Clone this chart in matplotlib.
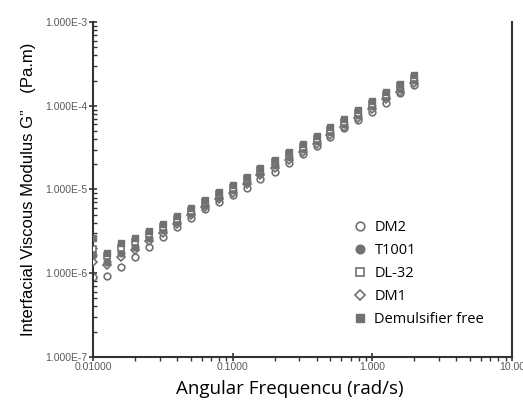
import matplotlib.pyplot as plt
from matplotlib.ticker import FixedLocator, LogLocator, NullFormatter

# angular frequency (rad/s)
freq = [0.01, 0.0126, 0.0158, 0.02, 0.0251, 0.0316, 0.0398, 0.0501, 0.0631, 0.0794,
        0.1, 0.126, 0.158, 0.2, 0.251, 0.316, 0.398, 0.501, 0.631, 0.794,
        1.0, 1.26, 1.58, 2.0]

demuls_free = [2.64e-6, 1.75e-6, 2.30e-6, 2.64e-6, 3.19e-6, 3.87e-6, 4.83e-6, 6.01e-6,
               7.50e-6, 9.34e-6, 1.13e-5, 1.41e-5, 1.81e-5, 2.25e-5, 2.81e-5, 3.49e-5,
               4.35e-5, 5.57e-5, 6.95e-5, 8.89e-5, 1.14e-4, 1.46e-4, 1.82e-4, 2.33e-4]
dl32 = [1.95e-6, 1.61e-6, 2.00e-6, 2.36e-6, 2.94e-6, 3.56e-6, 4.45e-6, 5.54e-6,
        7.00e-6, 8.71e-6, 1.05e-5, 1.32e-5, 1.69e-5, 2.10e-5, 2.62e-5, 3.26e-5,
        4.06e-5, 5.20e-5, 6.48e-5, 8.29e-5, 1.06e-4, 1.36e-4, 1.70e-4, 2.17e-4]
t1001 = [1.65e-6, 1.36e-6, 1.75e-6, 2.06e-6, 2.64e-6, 3.28e-6, 4.09e-6, 5.24e-6,
         6.53e-6, 8.14e-6, 9.84e-6, 1.23e-5, 1.58e-5, 1.96e-5, 2.45e-5, 3.04e-5,
         3.79e-5, 4.85e-5, 6.05e-5, 7.74e-5, 9.93e-5, 1.27e-4, 1.59e-4, 2.03e-4]
dm1 = [1.36e-6, 1.26e-6, 1.56e-6, 1.90e-6, 2.43e-6, 3.03e-6, 3.87e-6, 4.96e-6,
       6.10e-6, 7.59e-6, 9.19e-6, 1.15e-5, 1.47e-5, 1.83e-5, 2.28e-5, 2.84e-5,
       3.54e-5, 4.53e-5, 5.65e-5, 7.23e-5, 9.27e-5, 1.19e-4, 1.48e-4, 1.89e-4]
dm2 = [9.02e-7, 9.27e-7, 1.19e-6, 1.56e-6, 2.06e-6, 2.71e-6, 3.56e-6, 4.57e-6,
       5.85e-6, 7.10e-6, 8.59e-6, 1.04e-5, 1.33e-5, 1.62e-5, 2.07e-5, 2.65e-5,
       3.30e-5, 4.24e-5, 5.42e-5, 6.76e-5, 8.41e-5, 1.08e-4, 1.42e-4, 1.77e-4]

x_ticks = [0.01, 0.1, 1, 10]
x_ticklabels = ['0.01000', '0.1000', '1.000', '10.00']
y_ticks = [1e-7, 1e-6, 1e-5, 1e-4, 1e-3]
y_ticklabels = ['1.000E-7', '1.000E-6', '1.000E-5', '1.000E-4', '1.000E-3']

plt.rcParams['font.family'] = ['Open Sans', 'Noto Sans CJK SC', 'DejaVu Sans']

fig = plt.figure(figsize=(5.23, 4.01), dpi=100)
ax = fig.add_axes([0.178, 0.11, 0.801, 0.835])

grey = '#717171'
ms = 4.8
ax.plot(freq, dm2, 'o', ls='none', ms=ms, mfc='white', mec=grey, mew=1.2, label='DM2', zorder=2)
ax.plot(freq, dm1, 'D', ls='none', ms=ms - 1, mfc='white', mec=grey, mew=1.2, label='DM1', zorder=3)
ax.plot(freq, t1001, 'o', ls='none', ms=ms, mfc=grey, mec=grey, label='T1001', zorder=4)
ax.plot(freq, dl32, 's', ls='none', ms=ms, mfc='white', mec=grey, mew=1.2, label='DL-32', zorder=5)
ax.plot(freq, demuls_free, 's', ls='none', ms=ms, mfc=grey, mec=grey, label='Demulsifier free', zorder=6)

ax.set_xscale('log')
ax.set_yscale('log')
ax.set_xlim(0.01, 10)
ax.set_ylim(1e-7, 1e-3)

ax.xaxis.set_major_locator(FixedLocator(x_ticks))
ax.set_xticklabels(x_ticklabels, family='Liberation Sans')
ax.xaxis.set_minor_locator(LogLocator(base=10, subs=range(2, 10)))
ax.xaxis.set_minor_formatter(NullFormatter())
ax.yaxis.set_major_locator(FixedLocator(y_ticks))
ax.set_yticklabels(y_ticklabels, family='Liberation Sans')
ax.yaxis.set_minor_locator(LogLocator(base=10, subs=range(2, 10)))
ax.yaxis.set_minor_formatter(NullFormatter())

ax.tick_params(axis='x', which='major', direction='inout', length=6, width=1.2,
               labelsize=7.5, pad=1, colors='#333333')
ax.tick_params(axis='x', which='minor', direction='out', length=3, width=1, colors='#333333')
ax.tick_params(axis='y', which='major', direction='inout', length=6, width=1.2,
               labelsize=7.5, pad=1, colors='#333333')
ax.tick_params(axis='y', which='minor', direction='in', length=3, width=1, colors='#333333')
for lbl in ax.get_xticklabels() + ax.get_yticklabels():
    lbl.set_color('#5a5a5a')

ax.spines['top'].set_visible(False)
for s in ['left', 'bottom', 'right']:
    ax.spines[s].set_linewidth(1.5)
    ax.spines[s].set_color('#333333')

ax.set_xlabel('Angular Frequencu (rad/s)', fontsize=13.5, labelpad=1)
ax.xaxis.set_label_coords(0.47, -0.068)
ax.set_ylabel('Interfacial Viscous Modulus G”\u3000(Pa.m)', fontsize=12, labelpad=7,
              family=['Liberation Sans', 'Noto Sans CJK SC'])

handles, labels = ax.get_legend_handles_labels()
order = [0, 2, 3, 1, 4]
ax.legend([handles[i] for i in order], [labels[i] for i in order],
          loc='lower right', bbox_to_anchor=(0.965, 0.05), frameon=False,
          fontsize=10.5, handletextpad=0.4, labelspacing=0.55, handlelength=1.2,
          markerscale=1.3)

fig.savefig('out.png', dpi=100)
